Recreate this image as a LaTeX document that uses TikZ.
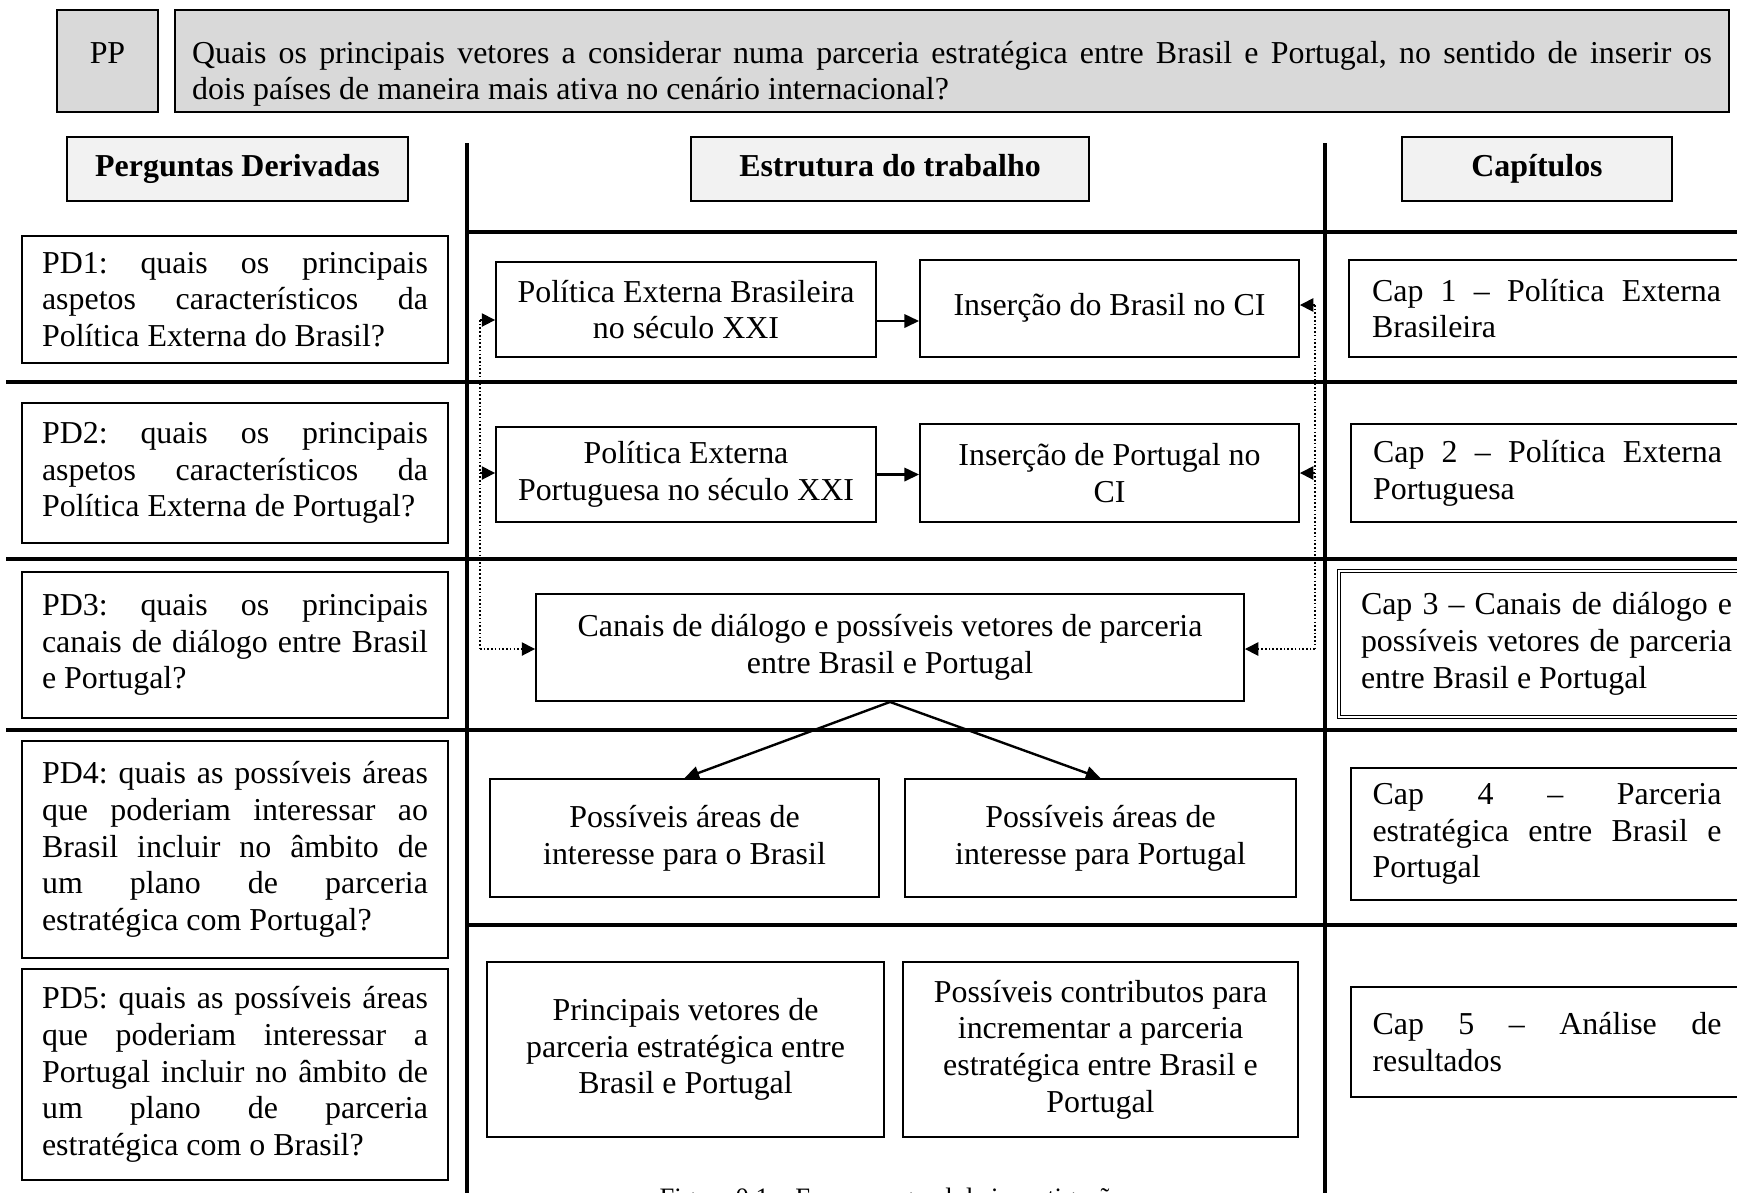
\documentclass[tikz,border=0pt]{standalone}
\usepackage{fontspec}
\setmainfont{Liberation Serif}
\usetikzlibrary{arrows.meta}
\definecolor{ppgray}{RGB}{217,217,217}
\definecolor{hdgray}{RGB}{242,242,242}
\frenchspacing
\newcommand\jl[2]{{\spaceskip=0pt\xspaceskip=0pt\makebox[#1][s]{#2}}}
\def\pdw{145.1pt}
\def\cpw{131.2pt}
\def\cpwb{139.5pt}
\def\qw{571.5pt}
\begin{document}
\begin{tikzpicture}[x=0.376pt,y=-0.376pt,
  area/.style n args={4}{minimum width={(#3-#1)*0.376pt}, minimum height={(#4-#2)*0.376pt}, at={({(#1+#3)/2},{(#2+#4)/2})}},
  bx/.style={draw, line width=0.7pt, inner sep=0pt, font=\fontsize{12}{13.8}\selectfont},
  ctr/.style={bx, align=center},
  jus/.style={bx, align=left, text width=#1, execute at begin node={\frenchspacing\spaceskip=0pt\xspaceskip=0pt}},
  hdr/.style={bx, fill=hdgray, align=center, font=\fontsize{12}{13.8}\selectfont\bfseries},
  sep/.style={line width=1.6pt},
  arr/.style={line width=0.9pt, -{Triangle[length=5.5pt,width=5pt]}},
  dotl/.style={line width=0.6pt, dash pattern=on 0.6pt off 0.8pt},
  dtip/.style={-{Triangle[length=5pt,width=5pt]}},
]
\useasboundingbox (0,0) rectangle (1737,1192);

% separators
\draw[sep] (467,143) -- (467,1200);
\draw[sep] (1325,143) -- (1325,1200);
\draw[sep] (467,232) -- (1740,232);
\draw[sep] (6,382) -- (1740,382);
\draw[sep] (6,559) -- (1740,559);
\draw[sep] (6,730) -- (1740,730);
\draw[sep] (467,925) -- (1740,925);

% top
\node[bx, fill=ppgray, align=center, area={57}{10}{158}{112}] (pp)
  {\rule{0pt}{18pt}PP\\\rule[-2.6pt]{0pt}{2.6pt}};
\node[jus=\qw, fill=ppgray, area={175}{10}{1729}{112}] (q)
  {\rule{0pt}{18pt}\jl{\qw}{Quais os principais vetores a considerar numa parceria estratégica entre Brasil e Portugal, no sentido de inserir os}\\dois países de maneira mais ativa no cenário internacional?};

% headers
\node[hdr, area={67}{137}{408}{201}] (h1) {\strut Perguntas Derivadas};
\node[hdr, area={691}{137}{1089}{201}] (h2) {\strut Estrutura do trabalho};
\node[hdr, area={1402}{137}{1672}{201}] (h3) {\strut Capítulos};

% left column
\node[jus=\pdw, area={22}{236}{448}{363}] (pd1)
  {\jl{\pdw}{PD1: quais os principais}\\\jl{\pdw}{aspetos característicos da}\\Política Externa do Brasil?};
\node[jus=\pdw, area={22}{403}{448}{543}] (pd2)
  {\jl{\pdw}{PD2: quais os principais}\\\jl{\pdw}{aspetos característicos da}\\Política Externa de Portugal?};
\node[jus=\pdw, area={22}{572}{448}{718}] (pd3)
  {\jl{\pdw}{PD3: quais os principais}\\\jl{\pdw}{canais de diálogo entre Brasil}\\e Portugal?};
\node[jus=\pdw, area={22}{741}{448}{958}] (pd4)
  {\jl{\pdw}{PD4: quais as possíveis áreas}\\\jl{\pdw}{que poderiam interessar ao}\\\jl{\pdw}{Brasil incluir no âmbito de}\\\jl{\pdw}{um plano de parceria}\\estratégica com Portugal?};
\node[jus=\pdw, area={22}{969}{448}{1180}] (pd5)
  {\jl{\pdw}{PD5: quais as possíveis áreas}\\\jl{\pdw}{que poderiam interessar a}\\\jl{\pdw}{Portugal incluir no âmbito de}\\\jl{\pdw}{um plano de parceria}\\estratégica com o Brasil?};

% middle column
\node[ctr, area={496}{262}{876}{357}] (peb) {Política Externa Brasileira\\no século XXI};
\node[ctr, area={920}{260}{1299}{357}] (ibci) {\strut Inserção do Brasil no CI};
\node[ctr, area={496}{427}{876}{522}] (pep) {Política Externa\\Portuguesa no século XXI};
\node[ctr, area={920}{424}{1299}{522}] (ipci) {Inserção de Portugal no\\CI};
\node[ctr, area={536}{594}{1244}{701}] (canais) {Canais de diálogo e possíveis vetores de parceria\\entre Brasil e Portugal};
\node[ctr, area={490}{779}{879}{897}] (pab) {Possíveis áreas de\\interesse para o Brasil};
\node[ctr, area={905}{779}{1296}{897}] (pap) {Possíveis áreas de\\interesse para Portugal};
\node[ctr, area={487}{962}{884}{1137}] (pv) {Principais vetores de\\parceria estratégica entre\\Brasil e Portugal};
\node[ctr, area={903}{962}{1298}{1137}] (pc) {Possíveis contributos para\\incrementar a parceria\\estratégica entre Brasil e\\Portugal};

% right column
\node[jus=\cpw, area={1349}{260}{1744}{357}] (c1) {\jl{\cpw}{Cap 1 – Política Externa}\\Brasileira};
\node[jus=\cpw, area={1351}{424}{1744}{522}] (c2) {\jl{\cpw}{Cap 2 – Política Externa}\\Portuguesa};
\node[jus=\cpwb, double, double distance=0.5pt, line width=0.4pt, area={1339}{571}{1754}{717}] (c3)
  {\jl{\cpwb}{Cap 3 – Canais de diálogo e}\\\jl{\cpwb}{possíveis vetores de parceria}\\entre Brasil e Portugal};
\node[jus=\cpw, area={1351}{768}{1743}{900}] (c4) {\jl{\cpw}{Cap 4 – Parceria}\\\jl{\cpw}{estratégica entre Brasil e}\\Portugal};
\node[jus=\cpw, area={1351}{987}{1743}{1097}] (c5) {\jl{\cpw}{Cap 5 – Análise de}\\resultados};

% solid arrows
\coordinate (r1) at (0,321);
\draw[arr] (peb.east |- r1) -- (ibci.west |- r1);
\draw[arr] (pep.east) -- (ipci.west |- pep.east);
\draw[arr] (canais.south) -- (pab.north);
\draw[arr] (canais.south) -- (pap.north);

% dotted feedback lines
\coordinate (lt) at (480,320);
\coordinate (lm) at (480,473);
\coordinate (lb) at (480,649);
\draw[dotl] (lt) -- (lb);
\draw[dotl,dtip] (lb) -- (canais.west |- lb);
\draw[dotl,dtip] (lt) -- (peb.west |- lt);
\draw[dotl,dtip] (lm) -- (pep.west |- lm);
\coordinate (rt) at (1315,305);
\coordinate (rm) at (1315,473);
\coordinate (rb) at (1315,649);
\draw[dotl] (rt) -- (rb);
\draw[dotl,dtip] (rb) -- (canais.east |- rb);
\draw[dotl,dtip] (rt) -- (ibci.east |- rt);
\draw[dotl,dtip] (rm) -- (ipci.east |- rm);

% caption (cut by the page edge, as in the reference)
\node[anchor=base west, inner sep=0pt, font=\fontsize{10}{12}\selectfont] (fig) at (659,1206) {Figura 0.1 – Esquema geral da investigação};
\end{tikzpicture}
\end{document}
